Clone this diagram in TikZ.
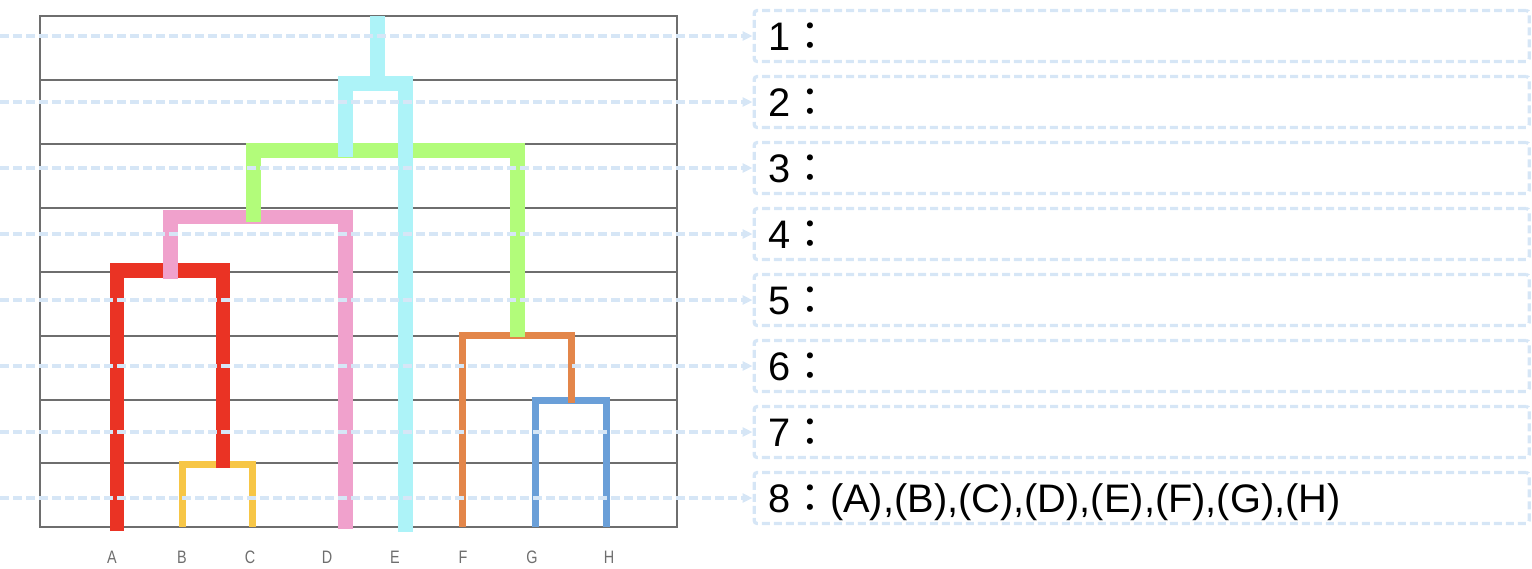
\documentclass[tikz,border=0pt]{standalone}
\usepackage{fontspec}
\setmainfont{Liberation Sans}
\newfontfamily\cjk{Noto Sans CJK JP}
\usetikzlibrary{arrows.meta}
\definecolor{gridgray}{HTML}{6E6E6E}
\definecolor{dashblue}{HTML}{D6E6F6}
\definecolor{cRed}{HTML}{EA3324}
\definecolor{cYel}{HTML}{F7C646}
\definecolor{cBlue}{HTML}{6A9FD8}
\definecolor{cOra}{HTML}{E3864A}
\definecolor{cPink}{HTML}{F0A1CC}
\definecolor{cGreen}{HTML}{B2FC7A}
\definecolor{cCyan}{HTML}{ADF3F8}
\begin{document}
\begin{tikzpicture}[x=1pt,y=-1pt,
  gridline/.style={draw=gridgray,line width=1.8pt},
  thick dend/.style={line width=14.5pt,line cap=butt,line join=miter},
  thin dend/.style={line width=7pt,line cap=butt,line join=miter},
  rowbox/.style={draw=dashblue,line width=3.3pt,dash pattern=on 8pt off 4pt,rounded corners=3pt,minimum width=775pt,minimum height=51pt,inner sep=0pt,anchor=west},
  guide/.style={draw=dashblue,line width=3.3pt,dash pattern=on 9pt off 4pt,-{Triangle[length=10pt,width=9pt]}},
  rowtext/.style={anchor=base west,inner sep=0pt,font=\fontsize{39.8}{47}\selectfont},
  leaf/.style={text=gridgray,font=\fontsize{18}{18}\selectfont,inner sep=0pt}
]
\useasboundingbox (0,0) rectangle (1532,568);
% grid
\draw[gridline] (40,16) rectangle (677,527);
\foreach \yy in {80,144,208,272,336,400,463} \draw[gridline] (40,\yy) -- (677,\yy);
% dendrogram
\draw[thin dend,cYel] (182,527) -- (182,464) -- (252,464) -- (252,527);
\draw[thin dend,cBlue] (535,527) -- (535,400) -- (606,400) -- (606,527);
\draw[thick dend,cRed] (117,531) -- (117,270.5) -- (223,270.5) -- (223,467.5);
\draw[thin dend,cOra] (462,527) -- (462,335) -- (571.5,335) -- (571.5,403);
\draw[thick dend,cPink] (170.5,278.5) -- (170.5,217) -- (345.5,217) -- (345.5,529);
\draw[thick dend,cGreen] (253.5,222) -- (253.5,150.5) -- (517.5,150.5) -- (517.5,337);
\draw[thick dend,cCyan] (345.5,157) -- (345.5,83.5) -- (405.5,83.5) -- (405.5,532);
\draw[thick dend,cCyan] (377.5,83.5) -- (377.5,16);
% leaf labels
\foreach \n/\xx in {A/112,B/182,C/250,D/327,E/395,F/463,G/532,H/609}
  \node[leaf] (leaf\n) at (\xx,557.5) {\scalebox{0.8}[1]{\n}};
% row boxes, guides, texts
\foreach \i in {1,...,8} {
  \pgfmathsetmacro{\cy}{36+66*(\i-1)}
  \node[rowbox] (box\i) at (752.5,\cy) {};
  \coordinate (start\i) at (0,\cy);
  \draw[guide] (start\i) -- (box\i.west);
}
\foreach \i in {1,...,7} {
  \pgfmathsetmacro{\by}{50.5+66*(\i-1)}
  \node[rowtext] (txt\i) at (768,\by) {\i{\cjk ：}};
}
\node[rowtext] (txt8) at (768,512.5) {8{\cjk ：}(A),(B),(C),(D),(E),(F),(G),(H)};
\end{tikzpicture}
\end{document}
